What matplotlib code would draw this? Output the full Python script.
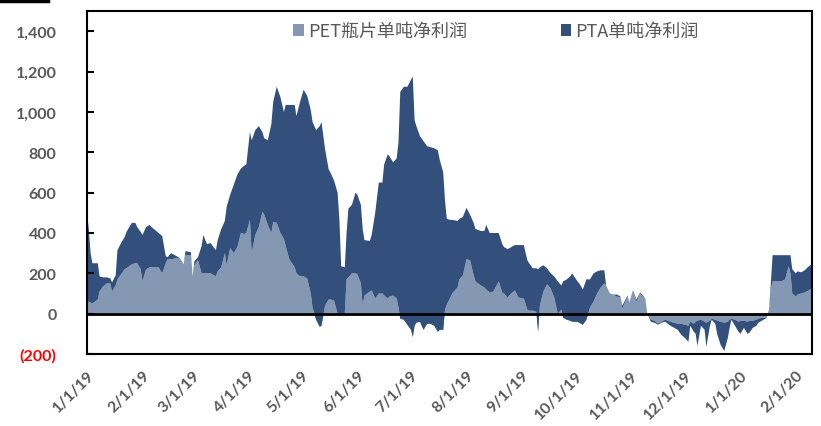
import matplotlib
matplotlib.use("Agg")
import matplotlib.pyplot as plt
import matplotlib.dates as mdates
from matplotlib.patches import Patch
from matplotlib.lines import Line2D
import pandas as pd

# days since 2019-01-01
days = [0, 1, 2, 3, 6, 7, 9, 11, 13, 14, 16, 17, 19, 21, 22, 25, 27, 28, 30, 31,
        33, 35, 36, 38, 40, 42, 44, 45, 47, 50, 52, 54, 55, 58, 59, 60, 62, 64, 65, 67,
        69, 72, 73, 75, 77, 78, 80, 82, 84, 86, 88, 89, 91, 92, 94, 96, 98, 99, 101, 103,
        104, 106, 108, 110, 111, 113, 116, 117, 119, 121, 123, 125, 126, 128, 130, 131, 133, 135, 136, 138,
        140, 141, 142, 144, 145, 146, 148, 150, 151, 153, 154, 155, 158, 159, 161, 163, 165, 166, 168, 169,
        171, 173, 174, 175, 177, 179, 181, 182, 183, 184, 186, 188, 190, 192, 194, 196, 197, 199, 200, 201,
        203, 204, 207, 208, 210, 212, 214, 216, 217, 220, 222, 223, 225, 227, 230, 232, 233, 235, 237, 239,
        241, 244, 246, 247, 249, 251, 252, 253, 255, 257, 259, 261, 263, 265, 266, 268, 270, 271, 274, 275,
        277, 279, 281, 283, 285, 287, 289, 290, 292, 294, 296, 298, 299, 302, 303, 305, 307, 309, 311, 312,
        313, 315, 317, 319, 321, 323, 326, 328, 330, 332, 334, 336, 337, 339, 340, 341, 343, 345, 346, 348,
        349, 351, 352, 354, 356, 358, 359, 360, 362, 364, 365, 367, 369, 370, 372, 374, 375, 377, 379, 380,
        381, 382, 383, 385, 388, 390, 392, 393, 394, 396, 397, 399, 401, 402, 404, 405]

pet = [50, 60, 55, 50, 70, 110, 135, 150, 150, 110, 140, 170, 195, 220, 225, 245, 250, 250, 220, 160,
       220, 230, 230, 230, 230, 200, 250, 270, 270, 275, 275, 245, 290, 290, 185, 240, 265, 200, 200, 200,
       200, 185, 210, 230, 300, 240, 325, 300, 330, 400, 395, 400, 465, 300, 390, 430, 505, 490, 440, 400,
       455, 450, 400, 370, 335, 270, 230, 200, 185, 185, 175, 100, 30, -30, -65, -60, 40, 70, 70, 65,
       0, 0, 0, 0, 170, 180, 200, 200, 195, 150, 40, 90, 110, 115, 75, 100, 100, 90, 75, 85,
       90, 75, 30, -25, -30, -55, -80, -115, -60, -45, -40, -80, -50, -50, -60, -90, -80, -80, 20, 45,
       80, 100, 130, 170, 190, 270, 265, 190, 160, 140, 130, 120, 105, 110, 160, 105, 100, 80, 100, 115,
       80, 75, 20, 15, 15, 10, -90, 40, 110, 145, 125, 80, 0, 20, -20, -30, -35, -40, -40, -45,
       -55, -30, 30, 60, 100, 130, 150, 140, 95, 95, 85, 80, 25, 85, 50, 110, 60, 100, 80, 65,
       0, -30, -35, -50, -40, -30, -40, -45, -50, -50, -55, -60, -40, -50, -40, -35, -30, -40, -45, -35,
       -25, -30, -35, -40, -45, -40, -30, -25, -30, -40, -35, -35, -40, -35, -35, -30, -25, -20, -20, -10,
       20, 120, 160, 160, 160, 170, 235, 200, 100, 85, 95, 100, 105, 110, 120, 125]

pta = [450, 360, 245, 200, 180, 75, 45, 30, 25, 45, 50, 145, 155, 160, 180, 205, 200, 180, 185, 230,
       210, 210, 200, 185, 170, 185, 35, 10, 30, 10, 0, 0, 20, 15, 0, 20, 15, 135, 190, 145,
       150, 130, 155, 190, 160, 290, 265, 340, 360, 320, 340, 340, 435, 560, 520, 500, 395, 380, 420, 540,
       595, 675, 675, 630, 700, 765, 805, 780, 865, 925, 905, 910, 920, 940, 995, 1010, 775, 645, 630, 595,
       600, 465, 235, 230, 230, 340, 340, 400, 395, 390, 380, 275, 250, 275, 425, 550, 550, 650, 715, 695,
       660, 695, 820, 1125, 1155, 1180, 1240, 1290, 1020, 975, 920, 935, 880, 875, 880, 900, 845, 780, 540, 425,
       385, 365, 330, 300, 290, 255, 225, 260, 260, 270, 280, 320, 295, 290, 240, 240, 230, 240, 230, 225,
       260, 265, 245, 235, 210, 215, 310, 190, 130, 80, 75, 105, 160, 120, 180, 200, 220, 240, 200, 195,
       175, 200, 140, 140, 110, 85, 65, 0, 5, 0, 10, 5, 15, 5, 5, 5, 10, 5, 5, 5,
       0, -10, -10, -5, -5, -10, -20, -25, -30, -55, -65, -80, -20, -40, -60, -125, -30, -40, -120, -25,
       -5, -20, -65, -115, -140, -80, -40, -5, -30, -50, -65, -35, -60, -60, -35, -30, -20, -15, -5, -5,
       0, 30, 130, 130, 130, 120, 55, 90, 120, 115, 115, 105, 110, 115, 120, 120]

series_names = ["PET瓶片单吨净利润", "PTA单吨净利润"]
month_labels = ["1/1/19", "2/1/19", "3/1/19", "4/1/19", "5/1/19", "6/1/19", "7/1/19",
                "8/1/19", "9/1/19", "10/1/19", "11/1/19", "12/1/19", "1/1/20", "2/1/20"]
y_ticks = [-200, 0, 200, 400, 600, 800, 1000, 1200, 1400]
y_labels = ["(200)", "0", "200", "400", "600", "800", "1,000", "1,200", "1,400"]

light = "#8497B3"
dark = "#33507C"
gray = "#595959"

start = pd.Timestamp("2019-01-01")
dates = [start + pd.Timedelta(days=d) for d in days]
month_dates = pd.date_range("2019-01-01", periods=len(month_labels), freq="MS")

fig = plt.figure(figsize=(8.21, 4.27), dpi=100)
ax = fig.add_axes([0.106, 0.1686, 0.883, 0.803])

ax.stackplot(dates, pet, pta, colors=[light, dark], linewidth=0, antialiased=True)
ax.axhline(0, color="black", lw=2, zorder=3)

ax.set_xlim(start, start + pd.Timedelta(days=405))
ax.set_ylim(-200, 1500)

ax.set_yticks(y_ticks)
ax.set_yticklabels(y_labels, fontfamily="Lato", fontweight="bold", fontsize=11.5, color=gray)
for lbl in ax.get_yticklabels():
    if lbl.get_text() == "(200)":
        lbl.set_color("#FF0000")
ax.tick_params(axis="y", direction="in", length=5, width=1.5, pad=22, color="black")

ax.set_xticks(month_dates)
ax.set_xticklabels(month_labels, rotation=45, ha="right", va="top", rotation_mode="anchor",
                   fontfamily="Lato", fontweight="bold", fontsize=11.5, color=gray)
ax.tick_params(axis="x", length=0, pad=10)

for s in ax.spines.values():
    s.set_linewidth(1.5)
    s.set_color("black")

handles = [Patch(facecolor=light, edgecolor="none"), Patch(facecolor=dark, edgecolor="none")]
leg = ax.legend(handles, series_names, loc="upper left", bbox_to_anchor=(0.262, 1.015), ncol=2,
                frameon=False, handlelength=0.6, handleheight=0.6, handletextpad=0.2,
                columnspacing=5.2, prop={"family": ["Noto Sans CJK SC", "DejaVu Sans"], "size": 13})
for t in leg.get_texts():
    t.set_color(gray)

fig.add_artist(Line2D([0, 48 / 821], [0.996, 0.996], color="black", lw=2.5, transform=fig.transFigure))

fig.savefig("out.png", dpi=100)
